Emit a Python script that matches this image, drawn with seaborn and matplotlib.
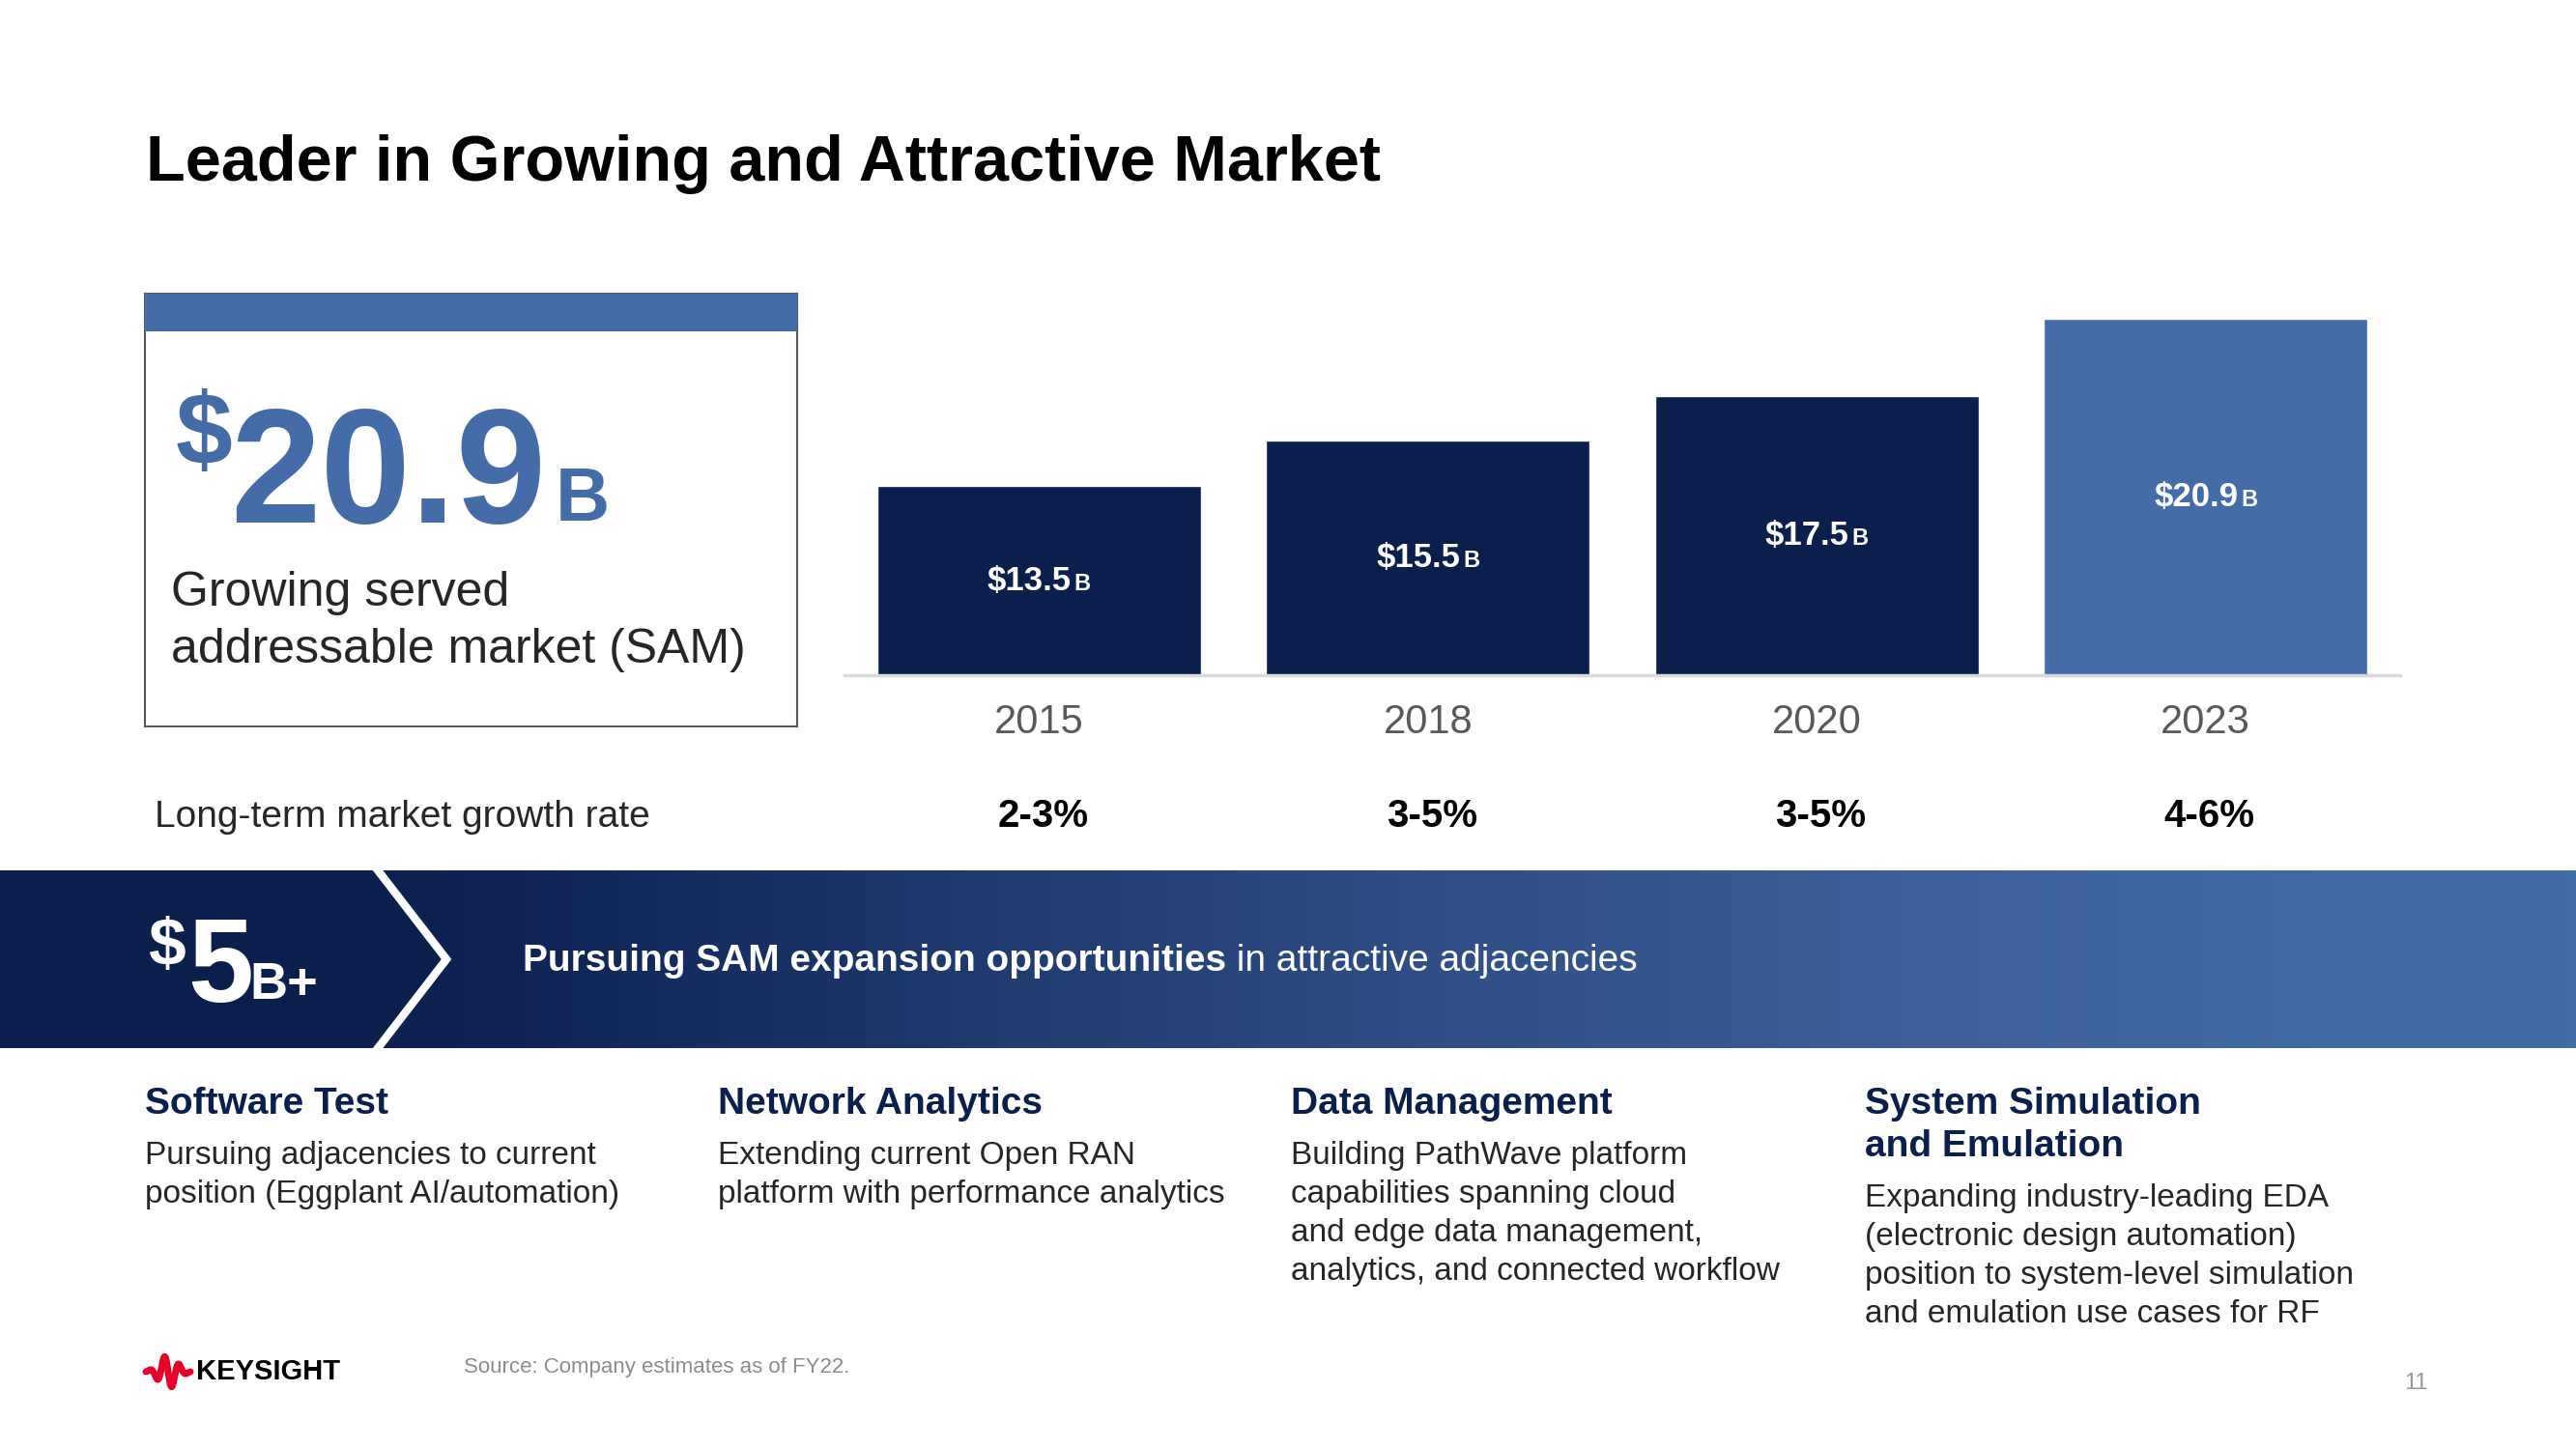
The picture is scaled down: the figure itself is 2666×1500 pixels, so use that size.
import numpy as np
import matplotlib
matplotlib.use("Agg")
import matplotlib.pyplot as plt
import matplotlib.transforms as mtransforms
from matplotlib.colors import LinearSegmentedColormap
from matplotlib.offsetbox import TextArea, HPacker, AnnotationBbox
from matplotlib.patches import Rectangle, Polygon
import seaborn as sns

# --- DATA ---
years = ["2015", "2018", "2020", "2023"]
sam_bn = [13.5, 15.5, 17.5, 20.9]
growth_rates = ["2-3%", "3-5%", "3-5%", "4-6%"]
headline_value = "20.9"
adjacency_value = "5"
col_titles = [["Software Test"], ["Network Analytics"], ["Data Management"],
              ["System Simulation", "and Emulation"]]
col_bodies = [
    ["Pursuing adjacencies to current", "position (Eggplant AI/automation)"],
    ["Extending current Open RAN", "platform with performance analytics"],
    ["Building PathWave platform", "capabilities spanning cloud",
     "and edge data management,", "analytics, and connected workflow"],
    ["Expanding industry-leading EDA", "(electronic design automation)",
     "position to system-level simulation", "and emulation use cases for RF"],
]

# --- STYLE ---
NAVY = "#0A1F4B"
BLUE = "#436CA9"
TEXT = "#262626"
GRAY = "#595959"
bar_colors = [NAVY, NAVY, NAVY, BLUE]

sns.set_theme(style="white")
FONT = ["Liberation Sans", "DejaVu Sans"]
plt.rcParams["font.family"] = FONT

W, H = 2666, 1500
fig = plt.figure(figsize=(W / 100, H / 100), dpi=100)
fig.patch.set_facecolor("white")

# background axes in pixel coords (y down)
bg = fig.add_axes([0, 0, 1, 1])
bg.axis("off")

# --- TITLE ---
bg.text(151, 187, "Leader in Growing and Attractive Market", fontsize=48,
        fontweight="bold", color="black", va="baseline", ha="left")

# --- SAM BOX ---
bg.add_patch(Rectangle((150, 304), 675, 448, fill=False, ec=GRAY, lw=1.5))
bg.add_patch(Rectangle((150, 304), 675, 39, color=BLUE, lw=0))
bg.text(182, 403, "$", fontsize=76, fontweight="bold", color=BLUE, va="top", ha="left")
bg.text(238, 541, headline_value, fontsize=121, fontweight="bold", color=BLUE,
        va="baseline", ha="left")
bg.text(575, 539, "B", fontsize=56, fontweight="bold", color=BLUE, va="baseline", ha="left")
bg.text(177, 627, "Growing served", fontsize=36, color=TEXT, va="baseline")
bg.text(177, 686, "addressable market (SAM)", fontsize=36, color=TEXT, va="baseline")

# --- BAR CHART ---
L, R, T, B = 874, 2484, 300, 699
ax = fig.add_axes([L / W, 1 - B / H, (R - L) / W, (B - T) / H])
ax.patch.set_alpha(0)
sns.barplot(x=years, y=sam_bn, hue=years, palette=bar_colors, legend=False,
            width=0.833, saturation=1, ax=ax)
y0 = 5.15
ax.set_ylim(y0, y0 + (B - T) / 23.43)
ax.set_xlim(-0.5, len(years) - 0.5)
sns.despine(ax=ax, left=True)
ax.spines["bottom"].set_color("#D9D9D9")
ax.spines["bottom"].set_linewidth(2.5)
ax.set_yticks([])
ax.set_xlabel("")
ax.set_ylabel("")
ax.tick_params(axis="x", length=0, pad=21, labelsize=30, labelcolor=GRAY)

for i, v in enumerate(sam_bn):
    big = TextArea(f"${v:.1f}", textprops=dict(fontsize=25, fontweight="bold", color="white"))
    small = TextArea("B", textprops=dict(fontsize=17, fontweight="bold", color="white"))
    pack = HPacker(children=[big, small], align="baseline", pad=0, sep=2)
    ab = AnnotationBbox(pack, (i, (y0 + v) / 2), frameon=False, box_alignment=(0.5, 0.5),
                        xycoords="data")
    ax.add_artist(ab)

# growth-rate row, x from the bar axes, y in page pixels
row = mtransforms.blended_transform_factory(ax.transData, bg.transData)
bg.text(160, 856, "Long-term market growth rate", fontsize=28, color=TEXT, va="baseline")
for i, g in enumerate(growth_rates):
    ax.text(i + 0.01, 856, g, transform=row, fontsize=29, fontweight="bold",
            color="black", ha="center", va="baseline")

# --- BANNER ---
grad = np.linspace(0, 1, 512).reshape(1, -1)
cmap = LinearSegmentedColormap.from_list(
    "banner", [(0, NAVY), (0.15, "#0C2150"), (0.19, "#0F2354"), (0.375, "#1E3A6E"),
               (0.56, "#2F4F86"), (0.75, "#3C609A"), (0.9, "#426AA6"), (1.0, "#436BA7")])
bg.imshow(grad, extent=(0, W, 1085, 901), aspect="auto", cmap=cmap, zorder=0)
bg.add_patch(Polygon([(0, 901), (388, 901), (462, 993), (388, 1085), (0, 1085)],
                     closed=True, color=NAVY, lw=0, zorder=1))
bg.plot([388, 462, 388], [897, 993, 1089], color="white", lw=6,
        solid_joinstyle="miter", zorder=2)
bg.text(153, 949, "$", fontsize=50, fontweight="bold", color="white", va="top", zorder=3)
bg.text(194, 1037, adjacency_value, fontsize=88, fontweight="bold", color="white",
        va="baseline", zorder=3)
bg.text(258, 1034, "B+", fontsize=39, fontweight="bold", color="white", va="baseline", zorder=3)

p1 = TextArea("Pursuing SAM expansion opportunities",
              textprops=dict(fontsize=28, fontweight="bold", color="white"))
p2 = TextArea(" in attractive adjacencies", textprops=dict(fontsize=28, color="white"))
ab = AnnotationBbox(HPacker(children=[p1, p2], align="baseline", pad=0, sep=0),
                    (541, 995), xycoords="data", frameon=False, box_alignment=(0, 0.5))
ab.set_zorder(3)
bg.add_artist(ab)

# --- ADJACENCY COLUMNS ---
col_x = [150, 743, 1336, 1930]
for x, titles, body in zip(col_x, col_titles, col_bodies):
    yb = 1153
    for t in titles:
        bg.text(x, yb, t, fontsize=28, fontweight="bold", color=NAVY, va="baseline")
        yb += 44
    yb += 8
    for line in body:
        bg.text(x, yb, line, fontsize=24, color=TEXT, va="baseline")
        yb += 40

# --- FOOTER ---
t = np.linspace(0, 1, 300)
wave = np.sin(2 * np.pi * 3 * t) * np.exp(-((t - 0.5) / 0.28) ** 2)
bg.plot(151 + 46 * t, 1420 - 17 * wave, color="#E90029", lw=5)
bg.text(203, 1428, "KEYSIGHT", fontsize=21, fontweight="bold", color="black", va="baseline")
bg.text(480, 1421, "Source: Company estimates as of FY22.", fontsize=16, color="#8C8C8C",
        va="baseline")
bg.text(2501, 1438, "11", fontsize=17, color="#9A9A9A", ha="center", va="baseline")

bg.set_xlim(0, W)
bg.set_ylim(H, 0)

fig.savefig("out.png", dpi=100, facecolor="white")
